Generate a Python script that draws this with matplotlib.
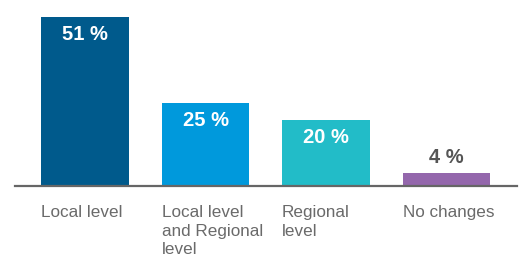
import numpy as np
import matplotlib.pyplot as plt

kategorie = ['Local level', 'Local level\nand Regional\nlevel', 'Regional\nlevel', 'No changes']
wartosci = [51, 25, 20, 4]
etykiety = ['51 %', '25 %', '20 %', '4 %']
kolory = ['#005a8c', '#0099dc', '#22bcc8', '#9467ac']

plt.rcParams['font.family'] = ['Liberation Sans', 'DejaVu Sans']

fig = plt.figure(figsize=(5.21, 2.56), dpi=100)
ax = fig.add_axes([15 / 521, 70 / 256, 502 / 521, 186 / 256])

x = np.arange(len(wartosci))
szer = 0.73
ax.bar(x, wartosci, width=szer, color=kolory, zorder=2)
ax.set_xlim(-0.581, 3.585)
ax.set_ylim(0, 56)
ax.axhline(0, color='#666666', lw=1.6, zorder=3, clip_on=False)

for i, (v, t) in enumerate(zip(wartosci, etykiety)):
    if v > 10:
        ax.annotate(t, (i, v), xytext=(0, -6), textcoords='offset points',
                    ha='center', va='top', color='white', fontsize=14.5, fontweight='bold')
    else:
        ax.annotate(t, (i, v), xytext=(0, 4), textcoords='offset points',
                    ha='center', va='bottom', color='#555555', fontsize=14.5, fontweight='bold')

for i, k in enumerate(kategorie):
    ax.annotate(k, (i - szer / 2, 0), xytext=(0, -14), textcoords='offset points',
                ha='left', va='top', color='#6a6a6a', fontsize=12.3, linespacing=1.28)

ax.axis('off')
fig.savefig('out.png', dpi=100)
